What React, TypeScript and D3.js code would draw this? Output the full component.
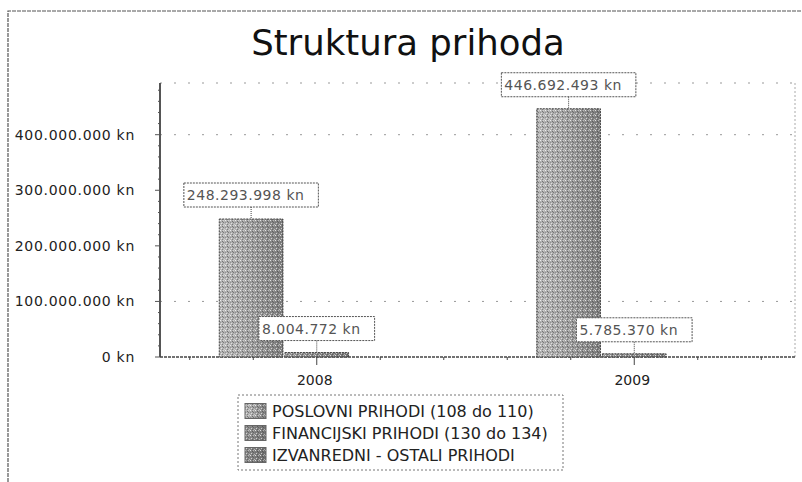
import React, { useEffect, useRef } from "react";
import * as d3 from "d3";

const categories = ["2008", "2009"];
const seriesNames = [
  "POSLOVNI PRIHODI (108 do 110)",
  "FINANCIJSKI PRIHODI (130 do 134)",
  "IZVANREDNI - OSTALI PRIHODI",
];
const poslovniPrihodi = [248293998, 446692493];
const financijskiPrihodi = [8004772, 5785370];
const izvanredniPrihodi = [0, 0];
const yTickValues = [0, 100000000, 200000000, 300000000, 400000000];
const gridValues = [100000000, 400000000];
const yDomainMax = 493000000;
const titleText = "Struktura prihoda";

export default function App() {
  const ref = useRef<SVGSVGElement>(null);

  useEffect(() => {
    const svg = d3.select(ref.current);
    svg.selectAll("*").remove();
    const fontFam = "'DejaVu Sans', Verdana, sans-serif";
    const left = 160, right = 795, top = 83, bottom = 357;

    const locale = d3.formatLocale({ decimal: ",", thousands: ".", grouping: [3], currency: ["", " kn"] });
    const f0 = locale.format(",.0f");
    const fmt = (v: number) => f0(v) + " kn";

    const series = [poslovniPrihodi, financijskiPrihodi, izvanredniPrihodi];

    // defs
    const defs = svg.append("defs");
    const mkGrad = (id: string, stops: [string, string][]) => {
      const g = defs.append("linearGradient").attr("id", id).attr("x1", "0").attr("x2", "1").attr("y1", "0").attr("y2", "0");
      stops.forEach(([o, c]) => g.append("stop").attr("offset", o).attr("stop-color", c));
    };
    mkGrad("g0", [["0%", "#b8b8b8"], ["35%", "#aaaaaa"], ["70%", "#929292"], ["100%", "#7e7e7e"]]);
    mkGrad("g1", [["0%", "#939393"], ["100%", "#747474"]]);
    mkGrad("g2", [["0%", "#8c8c8c"], ["100%", "#6e6e6e"]]);
    const pat = defs.append("pattern").attr("id", "stip").attr("width", 5).attr("height", 5).attr("patternUnits", "userSpaceOnUse");
    [
      [0, 0, "#ffffff", 0.75], [2, 1, "#333333", 0.5], [1, 3, "#ffffff", 0.6], [3, 2, "#444444", 0.5],
      [4, 4, "#eeeeee", 0.5], [0, 2, "#555555", 0.35], [3, 0, "#ffffff", 0.4], [2, 4, "#333333", 0.4],
    ].forEach(([x, y, c, o]) =>
      pat.append("rect").attr("x", x as number).attr("y", y as number).attr("width", 1).attr("height", 1).attr("fill", c as string).attr("opacity", o as number)
    );

    // outer frame
    svg.append("path").attr("d", "M8,482V11H802").attr("fill", "none").attr("stroke", "#555").attr("stroke-width", 1.2).attr("stroke-dasharray", "4,1");

    // title
    svg.append("text").attr("x", 408).attr("y", 55).attr("text-anchor", "middle").attr("font-family", fontFam).attr("font-size", 35.5).attr("fill", "#111").text(titleText);

    const x0 = d3.scaleBand<string>().domain(categories).range([158, 793]).paddingInner(0.386).paddingOuter(0.193);
    const x1 = d3.scaleBand<number>().domain([0, 1, 2]).range([0, x0.bandwidth()]).paddingInner(0.03);
    const y = d3.scaleLinear().domain([0, yDomainMax]).range([bottom, top]);

    // gridlines
    const grid = svg.append("g");
    [...gridValues.map((v) => y(v)), top].forEach((gy) => {
      grid.append("line").attr("x1", left).attr("x2", right).attr("y1", gy).attr("y2", gy)
        .attr("stroke", "#999").attr("stroke-width", 1).attr("stroke-dasharray", "2,12");
    });
    // right border of plot
    svg.append("line").attr("x1", right).attr("x2", right).attr("y1", top).attr("y2", bottom)
      .attr("stroke", "#aaa").attr("stroke-width", 1).attr("stroke-dasharray", "2,2");

    // y axis
    const ya = svg.append("g");
    ya.append("line").attr("x1", left).attr("x2", left).attr("y1", top).attr("y2", bottom).attr("stroke", "#555").attr("stroke-width", 2);
    d3.range(0, 480000001, 20000000).forEach((v) => {
      const major = v % 100000000 === 0;
      ya.append("line").attr("x1", left - (major ? 5 : 2)).attr("x2", left).attr("y1", y(v)).attr("y2", y(v)).attr("stroke", "#555").attr("stroke-width", 1);
    });
    yTickValues.forEach((v) => {
      ya.append("text").attr("x", 135).attr("y", y(v) + 5).attr("text-anchor", "end")
        .attr("font-family", fontFam).attr("font-size", 14).attr("letter-spacing", 0.7).attr("fill", "#222").text(fmt(v));
    });

    // x axis
    const xa = svg.append("g");
    xa.append("line").attr("x1", left).attr("x2", right).attr("y1", bottom).attr("y2", bottom).attr("stroke", "#444").attr("stroke-width", 1.5).attr("stroke-dasharray", "3,1");
    categories.forEach((c) => {
      const cx = (x0(c) as number) + x0.bandwidth() / 2;
      const st = x0.step() / 5;
      [-2, -1, 0, 1, 2].forEach((k) => {
        xa.append("line").attr("x1", cx + k * st).attr("x2", cx + k * st).attr("y1", bottom).attr("y2", bottom + (k === 0 ? 8 : 3)).attr("stroke", "#444").attr("stroke-width", 1);
      });
      xa.append("text").attr("x", cx - 2).attr("y", 385).attr("text-anchor", "middle").attr("font-family", fontFam).attr("font-size", 14).attr("fill", "#222").text(c);
    });

    // bars
    const bars = svg.append("g");
    const labels = svg.append("g");
    categories.forEach((c, ci) => {
      series.forEach((s, si) => {
        const v = s[ci];
        if (v <= 0) return;
        const bx = (x0(c) as number) + (x1(si) as number);
        const bw = x1.bandwidth();
        const by = y(v);
        const bh = bottom - by;
        bars.append("rect").attr("x", bx).attr("y", by).attr("width", bw).attr("height", bh).attr("fill", `url(#g${si})`);
        bars.append("rect").attr("x", bx).attr("y", by).attr("width", bw).attr("height", bh).attr("fill", "url(#stip)")
          .attr("stroke", "#444").attr("stroke-width", 1).attr("stroke-dasharray", "2,1");

        const cx = bx + bw / 2;
        const boxBottom = by - 12;
        const boxTop = boxBottom - 24;
        const lg = labels.append("g");
        const t = lg.append("text").attr("y", boxTop + 17).attr("font-family", fontFam).attr("font-size", 14)
          .attr("letter-spacing", 0.5).attr("fill", "#555").text(fmt(v));
        const tw = (t.node() as SVGTextElement).getComputedTextLength();
        const boxW = tw + 17;
        const boxX = cx - boxW / 2;
        t.attr("x", boxX + 3);
        lg.insert("rect", "text").attr("x", boxX).attr("y", boxTop).attr("width", boxW).attr("height", 24)
          .attr("fill", "#fff").attr("stroke", "#555").attr("stroke-width", 1).attr("stroke-dasharray", "2,1");
        lg.append("line").attr("x1", cx).attr("x2", cx).attr("y1", boxBottom).attr("y2", by)
          .attr("stroke", "#444").attr("stroke-width", 1).attr("stroke-dasharray", "1,1");
      });
    });

    // legend
    const leg = svg.append("g");
    leg.append("rect").attr("x", 238).attr("y", 395).attr("width", 325).attr("height", 75).attr("fill", "none")
      .attr("stroke", "#777").attr("stroke-width", 1).attr("stroke-dasharray", "2,2");
    seriesNames.forEach((n, i) => {
      const cy = 411 + i * 22;
      leg.append("rect").attr("x", 245).attr("y", cy - 7.5).attr("width", 21).attr("height", 15).attr("fill", `url(#g${i})`);
      leg.append("rect").attr("x", 245).attr("y", cy - 7.5).attr("width", 21).attr("height", 15).attr("fill", "url(#stip)")
        .attr("stroke", "#666").attr("stroke-width", 1);
      leg.append("text").attr("x", 272).attr("y", cy + 6).attr("font-family", fontFam).attr("font-size", 16)
        .attr("fill", "#222").text(n);
    });
  }, []);

  return (
    <svg
      ref={ref}
      width={802}
      height={482}
      style={{ position: "absolute", left: 0, top: 0, background: "#fff" }}
    />
  );
}
